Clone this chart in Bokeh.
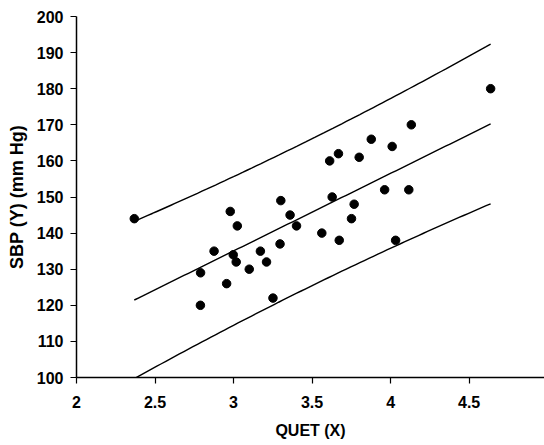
import numpy as np
from bokeh.plotting import figure
from bokeh.embed import file_html
from bokeh.resources import INLINE
from bokeh.models import Range1d, FixedTicker

# QUET (X) and SBP (Y) for 32 subjects
quet = [2.876, 3.251, 3.100, 3.768, 2.979, 2.790, 3.668, 3.612, 2.368, 4.637,
        3.877, 4.032, 4.116, 3.673, 3.562, 2.998, 3.360, 3.024, 3.171, 3.401,
        3.628, 3.751, 3.296, 3.210, 3.301, 3.017, 2.789, 2.956, 3.800, 4.132,
        3.962, 4.010]
sbp = [135, 122, 130, 148, 146, 129, 162, 160, 144, 180,
       166, 138, 152, 138, 140, 134, 145, 142, 135, 142,
       150, 144, 137, 132, 149, 132, 120, 126, 161, 170,
       152, 164]

x_ticks = [2, 2.5, 3, 3.5, 4, 4.5, 5]
x_tick_labels = ["2", "2.5", "3", "3.5", "4", "4.5", "5"]
y_ticks = [100, 110, 120, 130, 140, 150, 160, 170, 180, 190, 200]
t_crit = 2.042  # t(0.975, 30)

# least-squares fit and 95% prediction band
x = np.array(quet, dtype=float)
y = np.array(sbp, dtype=float)
n = len(x)
b1, b0 = np.polyfit(x, y, 1)
resid = y - (b0 + b1 * x)
s = np.sqrt(np.sum(resid ** 2) / (n - 2))
xbar = x.mean()
sxx = np.sum((x - xbar) ** 2)
xs = np.linspace(x.min(), x.max(), 80)
fit = b0 + b1 * xs
hw = t_crit * s * np.sqrt(1 + 1 / n + (xs - xbar) ** 2 / sxx)

FONT = "Liberation Sans"

p = figure(width=544, height=444,
           x_range=Range1d(2, 4.98), y_range=Range1d(100, 200),
           output_backend="svg", toolbar_location=None,
           min_border_left=76, min_border_right=0,
           min_border_top=16, min_border_bottom=67)
p.outline_line_color = None
p.grid.visible = False
p.background_fill_color = "white"
p.border_fill_color = "white"

p.line(xs, fit, line_color="black", line_width=1.4)
p.line(xs, fit + hw, line_color="black", line_width=1.4)
p.line(xs, fit - hw, line_color="black", line_width=1.4)
p.scatter(quet, sbp, size=8.5, fill_color="black", line_color="black")

p.xaxis.ticker = FixedTicker(ticks=x_ticks)
p.xaxis.major_label_overrides = {k: v for k, v in zip(x_ticks, x_tick_labels)}
p.yaxis.ticker = FixedTicker(ticks=y_ticks)

for ax in (p.xaxis, p.yaxis):
    ax.axis_line_color = "black"
    ax.axis_line_width = 1.5
    ax.major_tick_line_color = "black"
    ax.major_tick_line_width = 1.2
    ax.major_tick_out = 6
    ax.major_tick_in = 0
    ax.minor_tick_line_color = None
    ax.major_label_text_font = FONT
    ax.major_label_text_font_style = "bold"
    ax.major_label_text_font_size = "16px"
    ax.major_label_text_color = "black"
    ax.axis_label_text_font = FONT
    ax.axis_label_text_font_style = "bold"
    ax.axis_label_text_color = "black"

p.xaxis.major_label_standoff = 12
p.xaxis.axis_label = "QUET (X)"
p.xaxis.axis_label_text_font_size = "16px"
p.xaxis.axis_label_standoff = 11

p.yaxis.major_label_standoff = 7
p.yaxis.axis_label = "SBP (Y) (mm Hg)"
p.yaxis.axis_label_text_font_size = "18px"
p.yaxis.axis_label_standoff = 7

open("out.html", "w").write(file_html(p, INLINE))
